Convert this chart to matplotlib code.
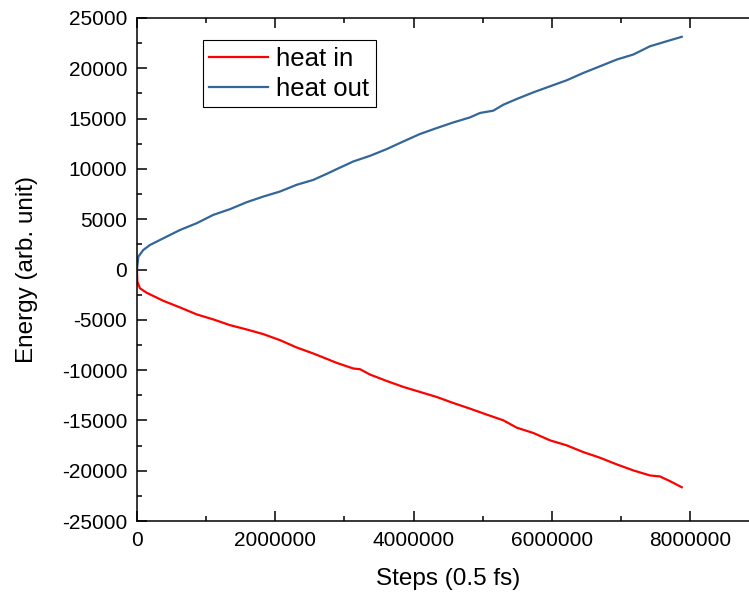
import numpy as np
import matplotlib
matplotlib.use('Agg')
import matplotlib.pyplot as plt
from matplotlib.ticker import MultipleLocator

plt.rcParams['font.family'] = ['Liberation Sans', 'DejaVu Sans']
plt.rcParams['axes.unicode_minus'] = False

# heat flow vs. simulation step
steps_out = [0, 19000, 91000, 188000, 380000, 622000, 863000, 1103000, 1345000,
             1586000, 1826000, 2067000, 2309000, 2550000, 2766000, 2888000,
             3128000, 3369000, 3611000, 3851000, 4092000, 4334000, 4574000,
             4815000, 4960000, 5152000, 5297000, 5491000, 5731000, 5972000,
             6214000, 6454000, 6695000, 6937000, 7177000, 7418000, 7660000,
             7877000]
heat_out = [0, 1270, 1940, 2440, 3100, 3930, 4600, 5430, 6000,
            6690, 7250, 7750, 8420, 8910, 9580, 9980,
            10740, 11300, 11970, 12730, 13470, 14060, 14620,
            15120, 15560, 15790, 16380, 16950, 17610, 18210,
            18810, 19540, 20200, 20870, 21370, 22190, 22690,
            23130]

steps_in = [0, 5000, 43000, 140000, 380000, 622000, 863000, 1103000, 1345000,
            1586000, 1826000, 2067000, 2309000, 2550000, 2766000, 2888000,
            3128000, 3225000, 3369000, 3611000, 3851000, 4092000, 4334000,
            4574000, 4815000, 5057000, 5297000, 5491000, 5731000, 5972000,
            6214000, 6454000, 6695000, 6937000, 7177000, 7418000, 7563000,
            7708000, 7877000]
heat_in = [0, -1210, -1870, -2310, -3110, -3770, -4460, -4960, -5530,
           -5960, -6420, -7020, -7750, -8350, -8940, -9280,
           -9840, -9910, -10440, -11080, -11670, -12170, -12670,
           -13270, -13830, -14420, -14990, -15720, -16250, -16980,
           -17480, -18150, -18710, -19370, -19970, -20470, -20570,
           -21040, -21640]

fig = plt.figure(figsize=(7.49, 5.96), dpi=100)
ax = fig.add_axes([0.1829, 0.1258, 0.831, 0.844])

ax.plot(steps_in, heat_in, color='#ff0000', lw=1.6, label='heat in')
ax.plot(steps_out, heat_out, color='#336699', lw=1.6, label='heat out')

ax.set_xlim(0, 9000000)
ax.set_ylim(-25000, 25000)
ax.xaxis.set_major_locator(MultipleLocator(2000000))
ax.xaxis.set_minor_locator(MultipleLocator(1000000))
ax.yaxis.set_major_locator(MultipleLocator(5000))
ax.yaxis.set_minor_locator(MultipleLocator(2500))
ax.ticklabel_format(style='plain', useOffset=False)

ax.tick_params(which='both', direction='in', top=True, right=False,
               width=1.1, labelsize=15, pad=7)
ax.tick_params(which='major', length=7)
ax.tick_params(which='minor', length=3.6)
for s in ax.spines.values():
    s.set_linewidth(1.1)

ax.set_xlabel('Steps (0.5 fs)', fontsize=17.5, labelpad=13)
ax.set_ylabel('Energy (arb. unit)', fontsize=17.5, labelpad=17)

leg = ax.legend(loc='upper left', bbox_to_anchor=(0.106, 0.956), borderaxespad=0,
                fontsize=18.5, fancybox=False, edgecolor='black', framealpha=1,
                handlelength=2.3, handletextpad=0.3, labelspacing=0.25,
                borderpad=0.25)
leg.get_frame().set_linewidth(0.8)

fig.savefig('out.png', dpi=100)
